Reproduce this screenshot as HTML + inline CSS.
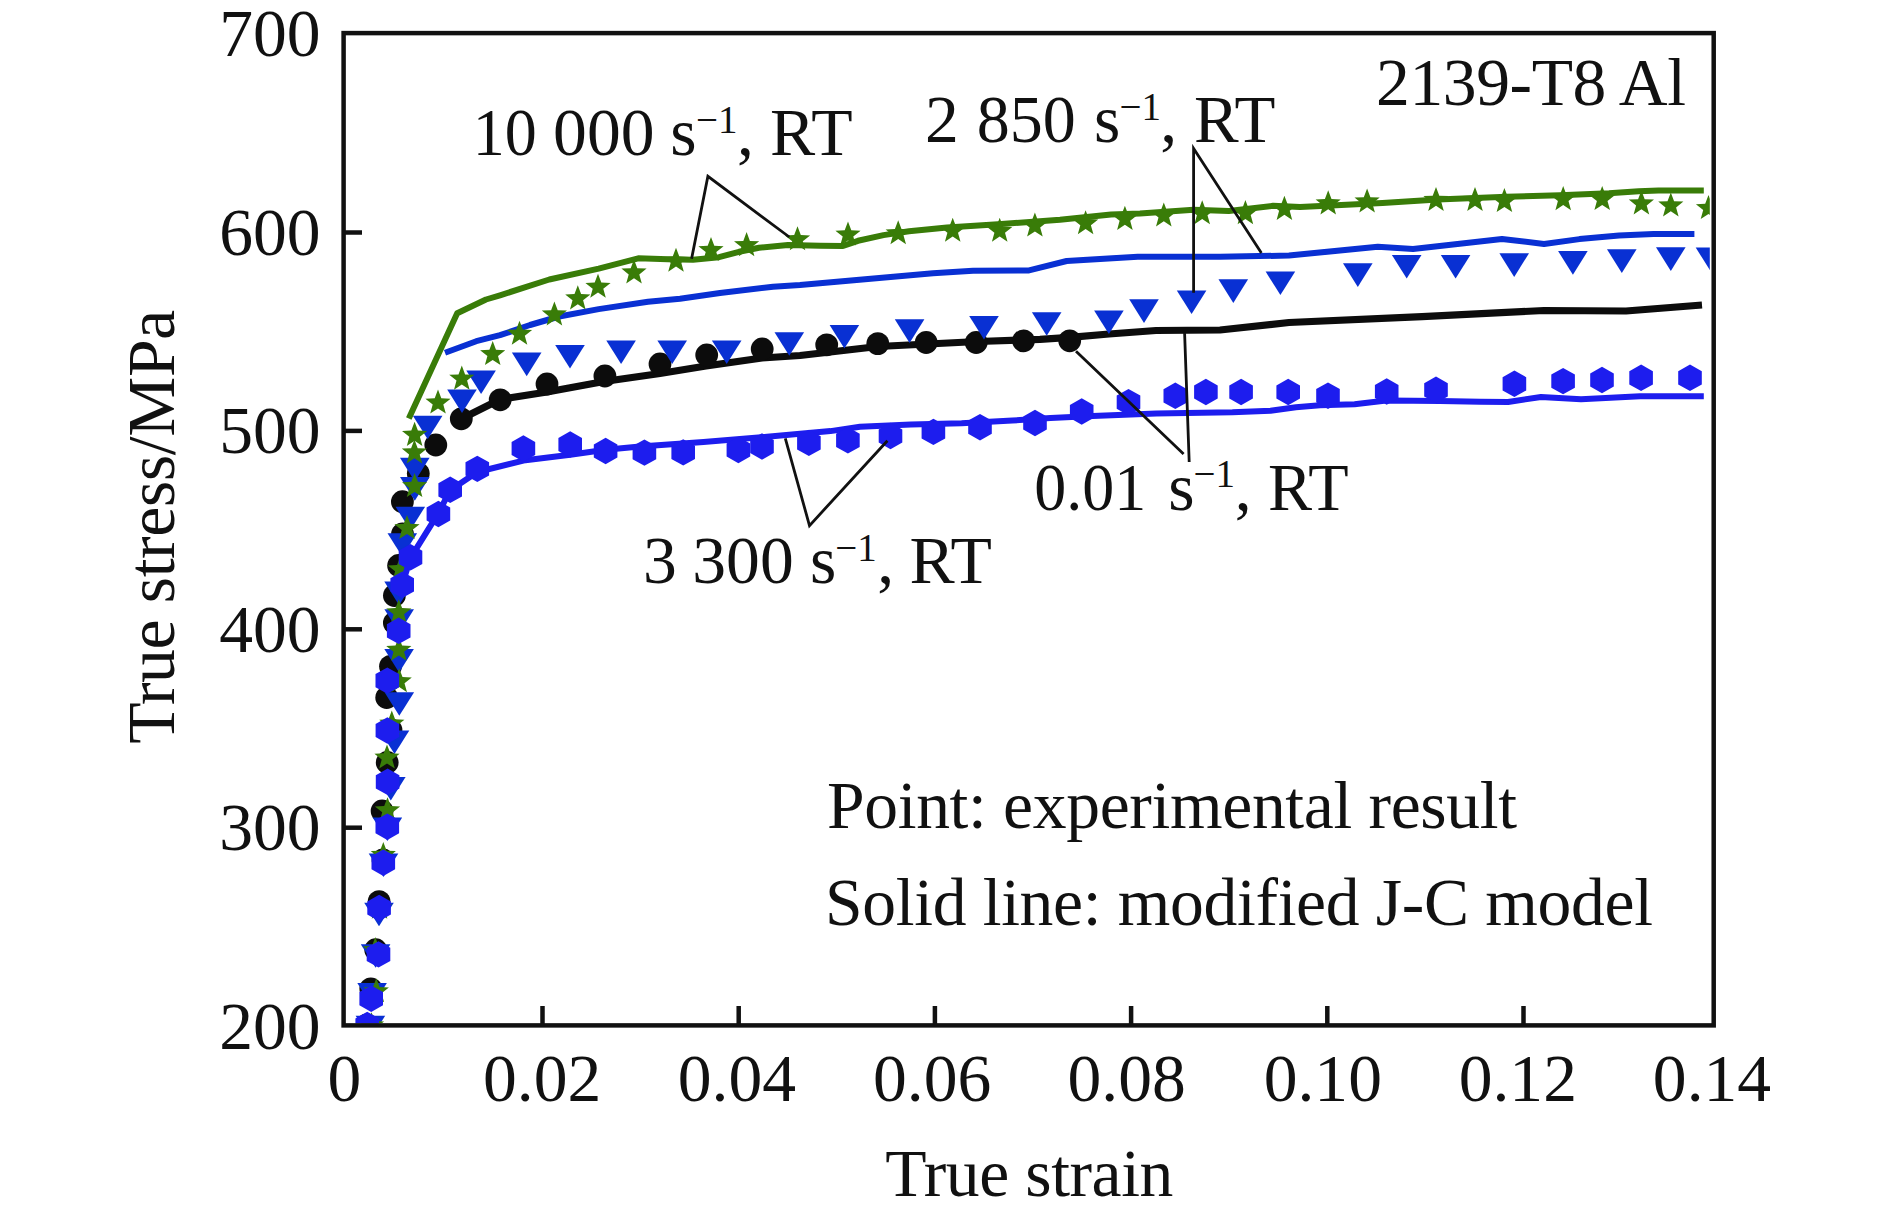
<!DOCTYPE html>
<html><head><meta charset="utf-8"><title>True stress - true strain</title>
<style>html,body{margin:0;padding:0;background:#fff}svg{display:block}text{font-family:"Liberation Serif",serif;font-size:67.6px;fill:#111}</style>
</head><body>
<svg width="1890" height="1216" viewBox="0 0 1890 1216">
<rect width="1890" height="1216" fill="#fff"/>
<defs><clipPath id="c"><rect x="343.5" y="33" width="1366.3" height="990.3"/></clipPath></defs>
<g clip-path="url(#c)">
<g fill="none" stroke-width="6" stroke-linejoin="round" stroke-linecap="butt">
<path d="M408.8,418.5 L457.2,313.3 L486,299.5 L500,295.3 L549.3,279.5 L598.7,268.6 L638.2,258.3 L667.8,259.2 L693,259.7 L719,257.2 L739,251.8 L759,247.8 L788,244.9 L820,245.7 L843,245.9 L858,240.8 L883.5,235.1 L909,231.3 L947,227.5 L998,224.3 L1060,219.8 L1111,214.5 L1140,213.6 L1193.6,209.8 L1228.8,211 L1273,205.8 L1300,207 L1382.5,203 L1437.6,199.6 L1506.4,196.8 L1560,195.2 L1609,193.2 L1638.7,191.2 L1658.4,190.5 L1703.8,190.5" stroke="#397c08"/>
<path d="M445,352.8 L476.3,341.2 L500,335.2 L530,325 L559.2,316.5 L598.7,309.1 L648,301.7 L680,298.8 L720,293 L773,286.7 L800,285 L933,273.3 L973,270.7 L1029,270.4 L1066.7,261 L1137.8,256.7 L1220,256.7 L1289,255.6 L1377.8,246.7 L1413,248.9 L1502,238.9 L1544,244 L1579.5,239.1 L1619,235.6 L1653.5,233.9 L1694.4,233.9" stroke="#0930d3"/>
<path d="M461,419 L500,399.5 L547,392 L604,381.5 L660,373.5 L706,366 L762,358 L800,355.5 L878,346.5 L978,341.5 L1040,339.3 L1070,337.3 L1109,334 L1156,330.5 L1220,330 L1289,322.5 L1422,316.7 L1544,310.5 L1626,311 L1702,305" stroke="#0c0c0c" stroke-width="7.2"/>
</g>
<g fill="#0c0c0c"><circle cx="367" cy="1025" r="11.4"/><circle cx="370.8" cy="988.8" r="11.4"/><circle cx="375.7" cy="949.7" r="11.4"/><circle cx="379.1" cy="901.6" r="11.4"/><circle cx="383" cy="860" r="11.4"/><circle cx="382.1" cy="811" r="11.4"/><circle cx="387.2" cy="762.5" r="11.4"/><circle cx="391" cy="730" r="11.4"/><circle cx="386.7" cy="697.5" r="11.4"/><circle cx="390.5" cy="666.3" r="11.4"/><circle cx="394.4" cy="622.9" r="11.4"/><circle cx="394.4" cy="595.5" r="11.4"/><circle cx="398.6" cy="565.5" r="11.4"/><circle cx="402.5" cy="534" r="11.4"/><circle cx="402.4" cy="501.7" r="11.4"/><circle cx="418.3" cy="473.5" r="11.4"/><circle cx="435.8" cy="445" r="11.4"/><circle cx="461.3" cy="418.8" r="11.4"/><circle cx="500.2" cy="399.8" r="11.4"/><circle cx="547" cy="384" r="11.4"/><circle cx="604.9" cy="376" r="11.4"/><circle cx="660" cy="364" r="11.4"/><circle cx="706.7" cy="355" r="11.4"/><circle cx="762.2" cy="349" r="11.4"/><circle cx="826.7" cy="344.8" r="11.4"/><circle cx="877.8" cy="343.6" r="11.4"/><circle cx="926.2" cy="342.5" r="11.4"/><circle cx="976.2" cy="342.5" r="11.4"/><circle cx="1023.5" cy="340.8" r="11.4"/><circle cx="1069.7" cy="340.8" r="11.4"/></g>
<g fill="#0930d3"><polygon points="355.6,1015.7 385.2,1015.7 370.4,1039.3"/><polygon points="357.3,983.1 386.9,983.1 372.1,1006.7"/><polygon points="360.8,944.2 390.4,944.2 375.6,967.8"/><polygon points="364.2,902.7 393.8,902.7 379.0,926.3"/><polygon points="368.7,853.5 398.3,853.5 383.5,877.1"/><polygon points="372.6,817.5 402.2,817.5 387.4,841.1"/><polygon points="376.0,776.9 405.6,776.9 390.8,800.5"/><polygon points="379.7,730.5 409.3,730.5 394.5,754.1"/><polygon points="384.5,692.2 414.1,692.2 399.3,715.8"/><polygon points="384.3,649.0 413.9,649.0 399.1,672.6"/><polygon points="384.4,609.2 414.0,609.2 399.2,632.8"/><polygon points="384.3,581.6 413.9,581.6 399.1,605.2"/><polygon points="387.5,533.2 417.1,533.2 402.3,556.8"/><polygon points="395.5,506.7 425.1,506.7 410.3,530.3"/><polygon points="400.0,477.1 429.6,477.1 414.8,500.7"/><polygon points="400.0,457.8 429.6,457.8 414.8,481.4"/><polygon points="412.9,415.7 442.5,415.7 427.7,439.3"/><polygon points="447.2,389.4 476.8,389.4 462.0,413.0"/><polygon points="466.3,370.4 495.9,370.4 481.1,394.0"/><polygon points="511.9,352.6 541.5,352.6 526.7,376.2"/><polygon points="555.2,344.9 584.8,344.9 570.0,368.5"/><polygon points="606.3,340.4 635.9,340.4 621.1,364.0"/><polygon points="657.4,340.4 687.0,340.4 672.2,364.0"/><polygon points="711.9,340.4 741.5,340.4 726.7,364.0"/><polygon points="774.5,332.2 804.1,332.2 789.3,355.8"/><polygon points="829.6,324.9 859.2,324.9 844.4,348.5"/><polygon points="894.8,319.3 924.4,319.3 909.6,342.9"/><polygon points="969.2,316.0 998.8,316.0 984.0,339.6"/><polygon points="1031.9,312.2 1061.5,312.2 1046.7,335.8"/><polygon points="1094.1,310.4 1123.7,310.4 1108.9,334.0"/><polygon points="1129.2,299.3 1158.8,299.3 1144.0,322.9"/><polygon points="1176.8,290.4 1206.4,290.4 1191.6,314.0"/><polygon points="1218.5,279.3 1248.1,279.3 1233.3,302.9"/><polygon points="1265.6,271.5 1295.2,271.5 1280.4,295.1"/><polygon points="1343.0,263.3 1372.6,263.3 1357.8,286.9"/><polygon points="1391.9,254.9 1421.5,254.9 1406.7,278.5"/><polygon points="1440.8,254.9 1470.4,254.9 1455.6,278.5"/><polygon points="1499.4,253.3 1529.0,253.3 1514.2,276.9"/><polygon points="1558.1,251.1 1587.7,251.1 1572.9,274.7"/><polygon points="1607.0,249.3 1636.6,249.3 1621.8,272.9"/><polygon points="1656.0,247.3 1685.6,247.3 1670.8,270.9"/><polygon points="1695.7,247.5 1725.3,247.5 1710.5,271.1"/></g>
<g fill="#397c08"><polygon points="371.5,1012.2 374.8,1021.0 384.1,1021.4 376.8,1027.2 379.3,1036.3 371.5,1031.1 363.7,1036.3 366.2,1027.2 358.9,1021.4 368.2,1021.0"/><polygon points="376.3,978.2 379.6,987.0 388.9,987.4 381.6,993.2 384.1,1002.3 376.3,997.1 368.5,1002.3 371.0,993.2 363.7,987.4 373.0,987.0"/><polygon points="375.3,937.1 378.6,945.9 387.9,946.3 380.6,952.1 383.1,961.2 375.3,956.0 367.5,961.2 370.0,952.1 362.7,946.3 372.0,945.9"/><polygon points="379.5,894.7 382.8,903.5 392.1,903.9 384.8,909.7 387.3,918.8 379.5,913.6 371.7,918.8 374.2,909.7 366.9,903.9 376.2,903.5"/><polygon points="383.3,841.9 386.6,850.7 395.9,851.1 388.6,856.9 391.1,866.0 383.3,860.8 375.5,866.0 378.0,856.9 370.7,851.1 380.0,850.7"/><polygon points="387.5,797.2 390.8,806.0 400.1,806.4 392.8,812.2 395.3,821.3 387.5,816.1 379.7,821.3 382.2,812.2 374.9,806.4 384.2,806.0"/><polygon points="387.0,744.5 390.3,753.3 399.6,753.7 392.3,759.5 394.8,768.6 387.0,763.4 379.2,768.6 381.7,759.5 374.4,753.7 383.7,753.3"/><polygon points="391.8,710.5 395.1,719.3 404.4,719.7 397.1,725.5 399.6,734.6 391.8,729.4 384.0,734.6 386.5,725.5 379.2,719.7 388.5,719.3"/><polygon points="399.2,668.2 402.5,677.0 411.8,677.4 404.5,683.2 407.0,692.3 399.2,687.1 391.4,692.3 393.9,683.2 386.6,677.4 395.9,677.0"/><polygon points="398.8,636.7 402.1,645.5 411.4,645.9 404.1,651.7 406.6,660.8 398.8,655.6 391.0,660.8 393.5,651.7 386.2,645.9 395.5,645.5"/><polygon points="398.8,599.2 402.1,608.0 411.4,608.4 404.1,614.2 406.6,623.3 398.8,618.1 391.0,623.3 393.5,614.2 386.2,608.4 395.5,608.0"/><polygon points="400.4,556.2 403.7,565.0 413.0,565.4 405.7,571.2 408.2,580.3 400.4,575.1 392.6,580.3 395.1,571.2 387.8,565.4 397.1,565.0"/><polygon points="407.0,515.0 410.3,523.8 419.6,524.2 412.3,530.0 414.8,539.1 407.0,533.9 399.2,539.1 401.7,530.0 394.4,524.2 403.7,523.8"/><polygon points="414.6,473.0 417.9,481.8 427.2,482.2 419.9,488.0 422.4,497.1 414.6,491.9 406.8,497.1 409.3,488.0 402.0,482.2 411.3,481.8"/><polygon points="414.4,439.4 417.7,448.2 427.0,448.6 419.7,454.4 422.2,463.5 414.4,458.3 406.6,463.5 409.1,454.4 401.8,448.6 411.1,448.2"/><polygon points="414.6,421.8 417.9,430.6 427.2,431.0 419.9,436.8 422.4,445.9 414.6,440.7 406.8,445.9 409.3,436.8 402.0,431.0 411.3,430.6"/><polygon points="438.0,389.5 441.3,398.3 450.6,398.7 443.3,404.5 445.8,413.6 438.0,408.4 430.2,413.6 432.7,404.5 425.4,398.7 434.7,398.3"/><polygon points="461.8,365.6 465.1,374.4 474.4,374.8 467.1,380.6 469.6,389.7 461.8,384.5 454.0,389.7 456.5,380.6 449.2,374.8 458.5,374.4"/><polygon points="492.7,341.0 496.0,349.8 505.3,350.2 498.0,356.0 500.5,365.1 492.7,359.9 484.9,365.1 487.4,356.0 480.1,350.2 489.4,349.8"/><polygon points="519.5,320.7 522.8,329.5 532.1,329.9 524.8,335.7 527.3,344.8 519.5,339.6 511.7,344.8 514.2,335.7 506.9,329.9 516.2,329.5"/><polygon points="554.4,301.4 557.7,310.2 567.0,310.6 559.7,316.4 562.2,325.5 554.4,320.3 546.6,325.5 549.1,316.4 541.8,310.6 551.1,310.2"/><polygon points="577.8,285.3 581.1,294.1 590.4,294.5 583.1,300.3 585.6,309.4 577.8,304.2 570.0,309.4 572.5,300.3 565.2,294.5 574.5,294.1"/><polygon points="598.0,273.7 601.3,282.5 610.6,282.9 603.3,288.7 605.8,297.8 598.0,292.6 590.2,297.8 592.7,288.7 585.4,282.9 594.7,282.5"/><polygon points="634.0,259.4 637.3,268.2 646.6,268.6 639.3,274.4 641.8,283.5 634.0,278.3 626.2,283.5 628.7,274.4 621.4,268.6 630.7,268.2"/><polygon points="676.0,247.7 679.3,256.5 688.6,256.9 681.3,262.7 683.8,271.8 676.0,266.6 668.2,271.8 670.7,262.7 663.4,256.9 672.7,256.5"/><polygon points="711.0,237.0 714.3,245.8 723.6,246.2 716.3,252.0 718.8,261.1 711.0,255.9 703.2,261.1 705.7,252.0 698.4,246.2 707.7,245.8"/><polygon points="746.6,232.1 749.9,240.9 759.2,241.3 751.9,247.1 754.4,256.2 746.6,251.0 738.8,256.2 741.3,247.1 734.0,241.3 743.3,240.9"/><polygon points="797.5,226.2 800.8,235.0 810.1,235.4 802.8,241.2 805.3,250.3 797.5,245.1 789.7,250.3 792.2,241.2 784.9,235.4 794.2,235.0"/><polygon points="848.0,221.5 851.3,230.3 860.6,230.7 853.3,236.5 855.8,245.6 848.0,240.4 840.2,245.6 842.7,236.5 835.4,230.7 844.7,230.3"/><polygon points="898.2,220.2 901.5,229.0 910.8,229.4 903.5,235.2 906.0,244.3 898.2,239.1 890.4,244.3 892.9,235.2 885.6,229.4 894.9,229.0"/><polygon points="952.7,217.7 956.0,226.5 965.3,226.9 958.0,232.7 960.5,241.8 952.7,236.6 944.9,241.8 947.4,232.7 940.1,226.9 949.4,226.5"/><polygon points="999.7,217.7 1003.0,226.5 1012.3,226.9 1005.0,232.7 1007.5,241.8 999.7,236.6 991.9,241.8 994.4,232.7 987.1,226.9 996.4,226.5"/><polygon points="1034.9,212.5 1038.2,221.3 1047.5,221.7 1040.2,227.5 1042.7,236.6 1034.9,231.4 1027.1,236.6 1029.6,227.5 1022.3,221.7 1031.6,221.3"/><polygon points="1085.6,210.2 1088.9,219.0 1098.2,219.4 1090.9,225.2 1093.4,234.3 1085.6,229.1 1077.8,234.3 1080.3,225.2 1073.0,219.4 1082.3,219.0"/><polygon points="1124.9,205.8 1128.2,214.6 1137.5,215.0 1130.2,220.8 1132.7,229.9 1124.9,224.7 1117.1,229.9 1119.6,220.8 1112.3,215.0 1121.6,214.6"/><polygon points="1163.8,202.4 1167.1,211.2 1176.4,211.6 1169.1,217.4 1171.6,226.5 1163.8,221.3 1156.0,226.5 1158.5,217.4 1151.2,211.6 1160.5,211.2"/><polygon points="1202.2,200.2 1205.5,209.0 1214.8,209.4 1207.5,215.2 1210.0,224.3 1202.2,219.1 1194.4,224.3 1196.9,215.2 1189.6,209.4 1198.9,209.0"/><polygon points="1245.4,200.1 1248.7,208.9 1258.0,209.3 1250.7,215.1 1253.2,224.2 1245.4,219.0 1237.6,224.2 1240.1,215.1 1232.8,209.3 1242.1,208.9"/><polygon points="1284.4,195.8 1287.7,204.6 1297.0,205.0 1289.7,210.8 1292.2,219.9 1284.4,214.7 1276.6,219.9 1279.1,210.8 1271.8,205.0 1281.1,204.6"/><polygon points="1328.2,190.3 1331.5,199.1 1340.8,199.5 1333.5,205.3 1336.0,214.4 1328.2,209.2 1320.4,214.4 1322.9,205.3 1315.6,199.5 1324.9,199.1"/><polygon points="1367.1,188.4 1370.4,197.2 1379.7,197.6 1372.4,203.4 1374.9,212.5 1367.1,207.3 1359.3,212.5 1361.8,203.4 1354.5,197.6 1363.8,197.2"/><polygon points="1436.0,186.9 1439.3,195.7 1448.6,196.1 1441.3,201.9 1443.8,211.0 1436.0,205.8 1428.2,211.0 1430.7,201.9 1423.4,196.1 1432.7,195.7"/><polygon points="1475.0,186.9 1478.3,195.7 1487.6,196.1 1480.3,201.9 1482.8,211.0 1475.0,205.8 1467.2,211.0 1469.7,201.9 1462.4,196.1 1471.7,195.7"/><polygon points="1504.4,188.0 1507.7,196.8 1517.0,197.2 1509.7,203.0 1512.2,212.1 1504.4,206.9 1496.6,212.1 1499.1,203.0 1491.8,197.2 1501.1,196.8"/><polygon points="1563.2,186.1 1566.5,194.9 1575.8,195.3 1568.5,201.1 1571.0,210.2 1563.2,205.0 1555.4,210.2 1557.9,201.1 1550.6,195.3 1559.9,194.9"/><polygon points="1602.2,186.0 1605.5,194.8 1614.8,195.2 1607.5,201.0 1610.0,210.1 1602.2,204.9 1594.4,210.1 1596.9,201.0 1589.6,195.2 1598.9,194.8"/><polygon points="1641.4,190.4 1644.7,199.2 1654.0,199.6 1646.7,205.4 1649.2,214.5 1641.4,209.3 1633.6,214.5 1636.1,205.4 1628.8,199.6 1638.1,199.2"/><polygon points="1670.8,192.4 1674.1,201.2 1683.4,201.6 1676.1,207.4 1678.6,216.5 1670.8,211.3 1663.0,216.5 1665.5,207.4 1658.2,201.6 1667.5,201.2"/><polygon points="1708.5,195.0 1711.8,203.8 1721.1,204.2 1713.8,210.0 1716.3,219.1 1708.5,213.9 1700.7,219.1 1703.2,210.0 1695.9,204.2 1705.2,203.8"/></g>
<path d="M402,585 L410.7,557.6 L438.4,513.2 L450.2,490.2 L477.3,472 L523.4,460.6 L570.3,454.8 L605.6,449.8 L640,446.6 L703.5,441.9 L767,436.8 L830.5,431.1 L860,426.8 L910.8,424.6 L961.6,423.2 L1012.4,420.6 L1050.5,418.1 L1092.7,416.1 L1156.2,413.6 L1232.4,412.3 L1270.5,410.8 L1295.9,407.2 L1320,405.3 L1354.6,404.3 L1386.3,400.5 L1440,401 L1480,401.8 L1508,402 L1541,397 L1581,399.3 L1640,396.2 L1703.8,396.2" stroke="#1d1dee" fill="none" stroke-width="6" stroke-linejoin="round"/>
<g fill="#1d1dee"><polygon points="367.2,1011.8 379.0,1018.4 379.0,1031.6 367.2,1038.2 355.4,1031.6 355.4,1018.4"/><polygon points="371.2,985.5 383.0,992.1 383.0,1005.3 371.2,1011.9 359.4,1005.3 359.4,992.1"/><polygon points="378.5,941.2 390.3,947.8 390.3,961.0 378.5,967.6 366.7,961.0 366.7,947.8"/><polygon points="379.1,894.8 390.9,901.4 390.9,914.6 379.1,921.2 367.3,914.6 367.3,901.4"/><polygon points="383.3,849.5 395.1,856.1 395.1,869.3 383.3,875.9 371.5,869.3 371.5,856.1"/><polygon points="387.3,813.5 399.1,820.1 399.1,833.3 387.3,839.9 375.5,833.3 375.5,820.1"/><polygon points="387.6,768.6 399.4,775.2 399.4,788.4 387.6,795.0 375.8,788.4 375.8,775.2"/><polygon points="387.4,717.3 399.2,723.9 399.2,737.1 387.4,743.7 375.6,737.1 375.6,723.9"/><polygon points="387.3,667.4 399.1,674.0 399.1,687.2 387.3,693.8 375.5,687.2 375.5,674.0"/><polygon points="398.7,617.6 410.5,624.2 410.5,637.4 398.7,644.0 386.9,637.4 386.9,624.2"/><polygon points="402.2,571.6 414.0,578.2 414.0,591.4 402.2,598.0 390.4,591.4 390.4,578.2"/><polygon points="410.5,544.1 422.3,550.7 422.3,563.9 410.5,570.5 398.7,563.9 398.7,550.7"/><polygon points="438.4,500.8 450.2,507.4 450.2,520.6 438.4,527.2 426.6,520.6 426.6,507.4"/><polygon points="450.2,476.6 462.0,483.2 462.0,496.4 450.2,503.0 438.4,496.4 438.4,483.2"/><polygon points="477.3,455.7 489.1,462.3 489.1,475.5 477.3,482.1 465.5,475.5 465.5,462.3"/><polygon points="523.4,435.3 535.2,441.9 535.2,455.1 523.4,461.7 511.6,455.1 511.6,441.9"/><polygon points="570.2,431.3 582.0,437.9 582.0,451.1 570.2,457.7 558.4,451.1 558.4,437.9"/><polygon points="605.6,437.8 617.4,444.4 617.4,457.6 605.6,464.2 593.8,457.6 593.8,444.4"/><polygon points="644.4,439.4 656.2,446.0 656.2,459.2 644.4,465.8 632.6,459.2 632.6,446.0"/><polygon points="683.2,439.2 695.0,445.8 695.0,459.0 683.2,465.6 671.4,459.0 671.4,445.8"/><polygon points="738.4,436.8 750.2,443.4 750.2,456.6 738.4,463.2 726.6,456.6 726.6,443.4"/><polygon points="762.0,433.3 773.8,439.9 773.8,453.1 762.0,459.7 750.2,453.1 750.2,439.9"/><polygon points="808.9,429.7 820.7,436.3 820.7,449.5 808.9,456.1 797.1,449.5 797.1,436.3"/><polygon points="847.9,427.1 859.7,433.7 859.7,446.9 847.9,453.5 836.1,446.9 836.1,433.7"/><polygon points="890.5,422.8 902.3,429.4 902.3,442.6 890.5,449.2 878.7,442.6 878.7,429.4"/><polygon points="933.4,418.7 945.2,425.3 945.2,438.5 933.4,445.1 921.6,438.5 921.6,425.3"/><polygon points="980.0,414.0 991.8,420.6 991.8,433.8 980.0,440.4 968.2,433.8 968.2,420.6"/><polygon points="1035.0,409.8 1046.8,416.4 1046.8,429.6 1035.0,436.2 1023.2,429.6 1023.2,416.4"/><polygon points="1081.7,398.3 1093.5,404.9 1093.5,418.1 1081.7,424.7 1069.9,418.1 1069.9,404.9"/><polygon points="1128.5,389.0 1140.3,395.6 1140.3,408.8 1128.5,415.4 1116.7,408.8 1116.7,395.6"/><polygon points="1175.3,382.6 1187.1,389.2 1187.1,402.4 1175.3,409.0 1163.5,402.4 1163.5,389.2"/><polygon points="1205.9,378.8 1217.7,385.4 1217.7,398.6 1205.9,405.2 1194.1,398.6 1194.1,385.4"/><polygon points="1241.1,378.8 1252.9,385.4 1252.9,398.6 1241.1,405.2 1229.3,398.6 1229.3,385.4"/><polygon points="1288.2,378.8 1300.0,385.4 1300.0,398.6 1288.2,405.2 1276.4,398.6 1276.4,385.4"/><polygon points="1328.0,382.5 1339.8,389.1 1339.8,402.3 1328.0,408.9 1316.2,402.3 1316.2,389.1"/><polygon points="1386.7,378.3 1398.5,384.9 1398.5,398.1 1386.7,404.7 1374.9,398.1 1374.9,384.9"/><polygon points="1436.0,376.6 1447.8,383.2 1447.8,396.4 1436.0,403.0 1424.2,396.4 1424.2,383.2"/><polygon points="1514.4,370.6 1526.2,377.2 1526.2,390.4 1514.4,397.0 1502.6,390.4 1502.6,377.2"/><polygon points="1563.1,367.9 1574.9,374.5 1574.9,387.7 1563.1,394.3 1551.3,387.7 1551.3,374.5"/><polygon points="1602.0,366.8 1613.8,373.4 1613.8,386.6 1602.0,393.2 1590.2,386.6 1590.2,373.4"/><polygon points="1641.1,364.6 1652.9,371.2 1652.9,384.4 1641.1,391.0 1629.3,384.4 1629.3,371.2"/><polygon points="1690.0,364.6 1701.8,371.2 1701.8,384.4 1690.0,391.0 1678.2,384.4 1678.2,371.2"/></g>
</g>
<g fill="none" stroke="#111" stroke-width="2.8">
<path d="M691.6,258.7 L707.9,176.3 L789.3,237"/>
<path d="M1193.6,292.8 L1193.6,148.5 L1261.4,252.9"/>
<path d="M1184.6,333 L1189.2,462 M1076,351.3 L1183.6,454"/>
<path d="M785.3,438.3 L809.5,525.6 L887.4,440.7"/>
</g>
<g stroke="#111" stroke-width="4.5" fill="none">
<rect x="343.6" y="33.1" width="1370.1" height="992.3"/>
<line x1="542.5" y1="1006" x2="542.5" y2="1025"/>
<line x1="738.7" y1="1006" x2="738.7" y2="1025"/>
<line x1="934.9" y1="1006" x2="934.9" y2="1025"/>
<line x1="1131.1" y1="1006" x2="1131.1" y2="1025"/>
<line x1="1327.3" y1="1006" x2="1327.3" y2="1025"/>
<line x1="1523.5" y1="1006" x2="1523.5" y2="1025"/>
<line x1="344" y1="232.5" x2="362" y2="232.5"/>
<line x1="344" y1="430.9" x2="362" y2="430.9"/>
<line x1="344" y1="629.3" x2="362" y2="629.3"/>
<line x1="344" y1="827.7" x2="362" y2="827.7"/>
</g>
<text x="320.6" y="56.4" text-anchor="end">700</text>
<text x="320.6" y="254.8" text-anchor="end">600</text>
<text x="320.6" y="453.2" text-anchor="end">500</text>
<text x="320.6" y="651.6" text-anchor="end">400</text>
<text x="320.6" y="850.0" text-anchor="end">300</text>
<text x="320.6" y="1049.3" text-anchor="end">200</text>
<text x="344.5" y="1100.5" text-anchor="middle">0</text>
<text x="542.1" y="1100.5" text-anchor="middle">0.02</text>
<text x="736.9" y="1100.5" text-anchor="middle">0.04</text>
<text x="932.1" y="1100.5" text-anchor="middle">0.06</text>
<text x="1126.6" y="1100.5" text-anchor="middle">0.08</text>
<text x="1322.8" y="1100.5" text-anchor="middle">0.10</text>
<text x="1517.8" y="1100.5" text-anchor="middle">0.12</text>
<text x="1712" y="1100.5" text-anchor="middle">0.14</text>
<text x="885.3" y="1195.7" textLength="288" lengthAdjust="spacing">True strain</text>
<text transform="translate(174,526.7) rotate(-90)" text-anchor="middle" textLength="434" lengthAdjust="spacing">True stress/MPa</text>
<text x="1376" y="105.3" textLength="310" lengthAdjust="spacing">2139-T8 Al</text>
<text x="827" y="828" textLength="690" lengthAdjust="spacing">Point: experimental result</text>
<text x="825" y="924.8" textLength="828" lengthAdjust="spacing">Solid line: modified J-C model</text>
<text y="155"><tspan x="472.8" y="155" textLength="64" lengthAdjust="spacingAndGlyphs">10</tspan><tspan> </tspan><tspan x="553.1" y="155">000</tspan><tspan> </tspan><tspan x="670.2" y="155">s</tspan><tspan x="696" dy="-22.4" font-size="39">−1</tspan><tspan x="736.9" y="155">,</tspan><tspan> </tspan><tspan x="770.1" y="155" textLength="82.5" lengthAdjust="spacingAndGlyphs">RT</tspan></text>
<text y="142"><tspan x="925.1" y="142">2</tspan><tspan> </tspan><tspan x="976.8" y="142" textLength="99" lengthAdjust="spacingAndGlyphs">850</tspan><tspan> </tspan><tspan x="1094" y="142">s</tspan><tspan x="1119.5" dy="-22.4" font-size="39">−1</tspan><tspan x="1160.3" y="142">,</tspan><tspan> </tspan><tspan x="1194" y="142" textLength="81.5" lengthAdjust="spacingAndGlyphs">RT</tspan></text>
<text y="583.4"><tspan x="643.1" y="583.4">3</tspan><tspan> </tspan><tspan x="692.3" y="583.4">300</tspan><tspan> </tspan><tspan x="810" y="583.4">s</tspan><tspan x="835.3" dy="-22.4" font-size="39">−1</tspan><tspan x="877.3" y="583.4">,</tspan><tspan> </tspan><tspan x="909.5" y="583.4" textLength="82.5" lengthAdjust="spacingAndGlyphs">RT</tspan></text>
<text y="509.6"><tspan x="1034.2" y="509.6" textLength="112" lengthAdjust="spacingAndGlyphs">0.01</tspan><tspan> </tspan><tspan x="1168.2" y="509.6">s</tspan><tspan x="1193.6" dy="-22.4" font-size="39">−1</tspan><tspan x="1234.8" y="509.6">,</tspan><tspan> </tspan><tspan x="1268.1" y="509.6" textLength="80.5" lengthAdjust="spacingAndGlyphs">RT</tspan></text>
</svg></body></html>
